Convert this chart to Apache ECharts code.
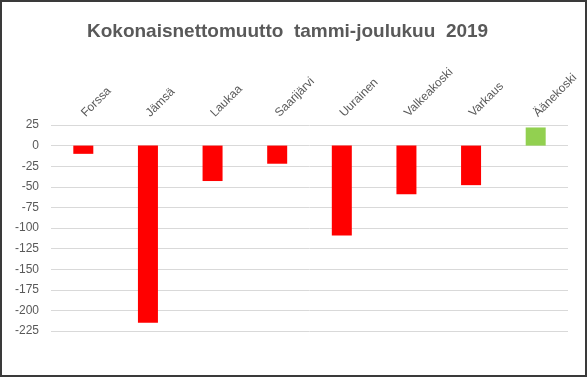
<!DOCTYPE html>
<html>
<head>
<meta charset="utf-8">
<script src="https://cdn.jsdelivr.net/npm/echarts@6/dist/echarts.min.js"></script>
<style>
html, body { margin: 0; padding: 0; background: #fff; }
#main { width: 587px; height: 377px; box-sizing: border-box; border: 2px solid #3a3a3a; }
</style>
</head>
<body>
<div id="main"></div>
<script>
var kunnat = ['Forssa', 'Jämsä', 'Laukaa', 'Saarijärvi', 'Uurainen', 'Valkeakoski', 'Varkaus', 'Äänekoski'];
var nettomuutto = [-10, -215, -43, -22, -109, -59, -48, 22];

var myChart = echarts.init(document.getElementById('main'));

var option = {
    animation: false,
    title: {
        text: 'Kokonaisnettomuutto  tammi-joulukuu  2019',
        left: 80,
        top: 15,
        textStyle: {
            fontFamily: 'Liberation Sans',
            fontSize: 19,
            fontWeight: 'bold',
            color: '#595959'
        }
    },
    grid: {
        left: 49,
        right: 17,
        top: 123,
        bottom: 44
    },
    xAxis: {
        type: 'category',
        position: 'top',
        data: kunnat,
        axisLine: { show: false },
        axisTick: { show: false },
        axisLabel: {
            interval: 0,
            rotate: 45,
            margin: 10,
            fontFamily: 'Liberation Sans',
            fontSize: 12,
            color: '#595959'
        }
    },
    yAxis: {
        type: 'value',
        min: -225,
        max: 25,
        interval: 25,
        axisLine: { show: false },
        axisTick: { show: false },
        axisLabel: {
            margin: 12,
            fontFamily: 'Liberation Sans',
            fontSize: 12,
            color: '#595959'
        },
        splitLine: {
            lineStyle: { color: '#d9d9d9', width: 1 }
        }
    },
    series: [{
        type: 'bar',
        data: nettomuutto,
        barWidth: 20,
        itemStyle: {
            color: function (p) {
                return p.value >= 0 ? '#92d050' : '#ff0000';
            }
        }
    }]
};
myChart.setOption(option);
</script>
</body>
</html>
